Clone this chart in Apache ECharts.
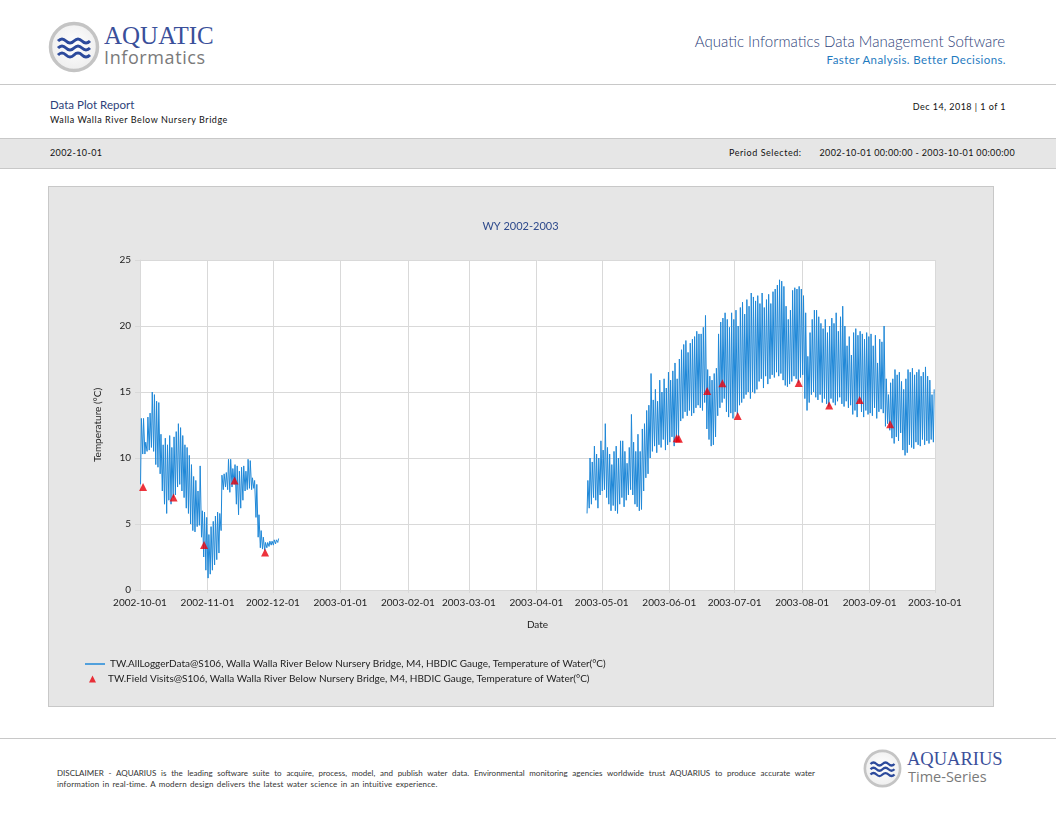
<!DOCTYPE html>
<html>
<head>
<meta charset="utf-8">
<script src="https://cdn.jsdelivr.net/npm/echarts@6/dist/echarts.min.js"></script>
<style>
  html, body { margin:0; padding:0; }
  body { width:1056px; height:816px; position:relative; background:#fff; overflow:hidden; font-family: Lato, 'Open Sans', 'Noto Sans', sans-serif; color:#222; }
  .abs { position:absolute; white-space:nowrap; }
  .hline { position:absolute; left:0; width:1056px; height:1px; background:#c8c8c8; }
  .narrow { font-family: 'Liberation Sans Narrow', Lato, sans-serif; }
</style>
</head>
<body>
<!-- header logo -->
<svg class="abs" style="left:48px;top:21px" width="52" height="52" viewBox="0 0 52 52">
  <defs>
    <radialGradient id="rg1" cx="50%" cy="45%" r="55%">
      <stop offset="0%" stop-color="#ffffff"/><stop offset="100%" stop-color="#eeeeee"/>
    </radialGradient>
  </defs>
  <circle cx="26" cy="26" r="23.5" fill="url(#rg1)" stroke="#c4c4c4" stroke-width="3.5"/>
  <path d="M10 20 q4 -4 8 0 t8 0 t8 0 t8 0" fill="none" stroke="#2c4a9c" stroke-width="3"/>
  <path d="M10 27 q4 -4 8 0 t8 0 t8 0 t8 0" fill="none" stroke="#2c4a9c" stroke-width="3"/>
  <path d="M10 34 q4 -4 8 0 t8 0 t8 0 t8 0" fill="none" stroke="#2c4a9c" stroke-width="3"/>
</svg>
<div class="abs" style="left:104px;top:23px;font-family:'Liberation Serif','DejaVu Serif',serif;font-size:25px;color:#3a4f9a;line-height:26px">AQUATIC</div>
<div class="abs" style="left:104px;top:47px;font-family:'Open Sans',sans-serif;font-size:18px;color:#7a7a7a;line-height:21px;letter-spacing:0.6px">Informatics</div>

<div class="abs" style="right:51px;top:31px;font-size:15px;color:#2e3f7a;line-height:20px;font-weight:300">Aquatic Informatics Data Management Software</div>
<div class="abs" style="right:50px;top:52px;font-size:11.5px;color:#1f7bbf;line-height:15px;letter-spacing:0.4px">Faster Analysis. Better Decisions.</div>

<div class="hline" style="top:84px"></div>

<div class="abs" style="left:50px;top:97px;font-size:11.5px;color:#2e3f7a;line-height:15px">Data Plot Report</div>
<div class="abs" style="left:50px;top:114px;font-size:9px;color:#111;line-height:12px;letter-spacing:0.55px">Walla Walla River Below Nursery Bridge</div>
<div class="abs" style="right:50px;top:101px;font-size:9px;color:#111;line-height:12px;letter-spacing:0.45px">Dec 14, 2018 | 1 of 1</div>

<div class="abs" style="left:0;top:138px;width:1056px;height:29px;background:#e6e6e6;border-top:1px solid #c8c8c8;border-bottom:1px solid #c8c8c8"></div>
<div class="abs" style="left:50px;top:147px;font-size:9px;color:#111;line-height:12px;letter-spacing:0.4px">2002-10-01</div>
<div class="abs" style="left:729px;top:147px;font-size:9px;color:#111;line-height:12px;letter-spacing:0.55px">Period Selected:</div>
<div class="abs" style="right:41px;top:147px;font-size:9px;color:#111;line-height:12px;letter-spacing:0.35px">2002-10-01 00:00:00 - 2003-10-01 00:00:00</div>

<!-- chart panel -->
<div class="abs" style="left:48px;top:186px;width:944px;height:519px;background:#e6e6e6;border:1px solid #c8c8c8"></div>
<div id="chart" class="abs" style="left:48px;top:186px;width:945px;height:520px"></div>

<div class="hline" style="top:738px"></div>

<div class="abs narrow" style="left:57px;top:768px;width:758px;font-size:8px;color:#333;line-height:11px;white-space:normal;text-align:justify;text-align-last:justify">DISCLAIMER - AQUARIUS is the leading software suite to acquire, process, model, and publish water data. Environmental monitoring agencies worldwide trust AQUARIUS to produce accurate water</div>
<div class="abs narrow" style="left:57px;top:779px;font-size:8px;color:#333;line-height:11px;letter-spacing:0.15px;word-spacing:1px">information in real-time. A modern design delivers the latest water science in an intuitive experience.</div>

<svg class="abs" style="left:863px;top:749px" width="39" height="39" viewBox="0 0 52 52">
  <circle cx="26" cy="26" r="23.5" fill="url(#rg1)" stroke="#c4c4c4" stroke-width="3.5"/>
  <path d="M10 20 q4 -4 8 0 t8 0 t8 0 t8 0" fill="none" stroke="#2c4a9c" stroke-width="3"/>
  <path d="M10 27 q4 -4 8 0 t8 0 t8 0 t8 0" fill="none" stroke="#2c4a9c" stroke-width="3"/>
  <path d="M10 34 q4 -4 8 0 t8 0 t8 0 t8 0" fill="none" stroke="#2c4a9c" stroke-width="3"/>
</svg>
<div class="abs" style="left:907px;top:750px;font-family:'Liberation Serif','DejaVu Serif',serif;font-size:18.5px;color:#3a4f9a;line-height:19px">AQUARIUS</div>
<div class="abs" style="left:908px;top:769px;font-family:'Open Sans',sans-serif;font-size:14.5px;color:#7a7a7a;line-height:16px">Time-Series</div>

<script>
// ---------- DATA ----------
const tickLabels = ['2002-10-01','2002-11-01','2002-12-01','2003-01-01','2003-02-01','2003-03-01','2003-04-01','2003-05-01','2003-06-01','2003-07-01','2003-08-01','2003-09-01','2003-10-01'];

// Logger data, autumn 2002: daily high / low (°C), one value per day starting fallStart
const fallStart = '2002-10-01';
const fallMax = [
  13.0,13.0,11.2,13.1,13.4,15.0,14.8,14.3,14.2,11.8,
  11.0,11.5,11.0,11.7,10.8,11.6,12.0,12.6,12.3,11.7,
  11.0,10.8,10.2,9.5,8.6,8.3,7.5,9.4,6.0,5.9,
  5.5,4.2,4.8,5.2,5.6,5.9,5.8,8.7,8.8,8.9,
  9.9,9.9,9.2,9.5,9.4,9.0,9.3,9.4,9.0,9.9,
  9.8,8.5,8.3,8.0,5.7,4.5,4.0,3.6,3.6,3.7,
  3.7,3.8,3.8,3.9
];
const fallMin = [
  8.0,10.3,10.3,10.5,10.6,10.8,10.5,9.5,9.3,8.8,
  7.5,6.5,5.8,6.8,6.5,7.0,7.2,7.8,8.0,7.5,
  7.0,6.2,5.8,5.0,4.5,4.4,4.8,4.9,4.0,2.5,
  1.5,0.9,1.2,1.5,1.9,2.3,2.8,4.5,7.6,7.8,
  7.6,7.4,7.8,8.0,6.5,5.7,6.2,6.8,7.5,7.6,
  7.7,7.6,7.7,5.5,4.0,3.2,3.1,3.0,3.2,3.3,
  3.4,3.4,3.5,3.6
];

// Logger data, spring/summer 2003: daily high / low (°C) starting summerStart
const summerStart = '2003-04-24';
const summerMax = [
  8.3,10.0,9.7,10.9,10.3,10.0,11.3,10.6,12.6,10.8,
  10.3,9.5,10.5,10.9,10.0,11.3,11.3,10.5,9.6,10.8,
  13.3,11.2,10.5,11.8,10.5,12.2,12.6,13.6,14.0,16.4,
  14.4,15.2,14.3,15.9,15.0,16.0,15.3,16.5,15.9,16.6,
  17.2,16.0,17.5,18.2,18.6,18.9,18.0,18.7,19.0,19.2,
  19.6,19.4,19.4,19.9,20.8,16.7,16.2,15.9,16.4,16.8,
  19.4,20.3,20.6,21.0,20.5,19.9,21.0,20.5,21.2,20.0,
  21.4,21.8,20.9,22.0,21.5,22.5,22.2,21.9,22.3,21.7,
  22.5,21.4,22.0,22.4,21.7,22.6,22.8,23.1,23.5,23.4,
  23.0,21.5,20.5,21.2,22.7,22.9,22.8,23.0,22.8,22.3,
  21.0,17.7,19.5,20.5,21.2,21.2,20.7,20.2,19.8,20.5,
  19.5,20.0,20.6,20.2,21.0,19.6,20.7,21.5,20.0,18.5,
  19.2,17.8,19.5,19.8,19.3,19.6,19.4,19.0,19.5,19.2,
  19.4,18.5,19.3,17.2,19.0,18.8,20.0,16.0,14.8,15.7,
  16.0,16.7,16.3,16.5,15.8,15.2,16.0,16.7,16.5,16.8,
  16.3,16.5,16.7,16.2,16.5,16.9,16.2,15.9,14.8,15.2
];
const summerMin = [
  5.8,6.2,6.5,7.0,6.8,6.2,7.2,7.5,7.6,7.0,
  6.5,6.0,6.4,6.0,5.8,6.5,7.0,6.3,6.8,7.2,
  7.6,7.2,6.5,6.3,6.0,6.1,7.5,8.5,8.8,10.0,
  10.5,10.9,10.4,11.0,10.8,11.4,10.6,11.0,11.2,11.6,
  10.9,11.2,11.5,12.8,13.0,13.5,13.2,13.6,13.2,13.4,
  13.8,14.0,13.8,13.6,14.2,12.2,11.4,10.9,11.0,11.6,
  13.2,13.8,14.2,14.5,13.5,13.1,13.4,13.0,13.5,13.3,
  14.0,14.2,14.5,14.8,15.0,14.5,15.0,14.9,15.2,15.8,
  16.0,15.3,16.2,15.6,16.0,16.3,16.1,16.5,16.2,16.4,
  15.9,15.5,15.4,15.6,15.8,16.2,16.0,15.7,16.1,16.3,
  14.5,13.6,14.2,14.8,15.0,14.6,14.4,14.8,14.2,14.5,
  14.1,13.9,14.5,14.2,14.0,14.3,14.6,14.1,13.9,14.3,
  13.8,14.0,13.3,13.6,13.1,14.2,13.5,13.1,13.6,13.3,
  13.4,13.2,13.8,13.0,13.5,13.7,13.4,12.4,12.6,12.1,
  11.5,11.1,11.6,11.3,11.9,10.6,10.2,10.4,11.0,10.8,
  10.7,11.2,11.0,10.9,11.4,11.0,11.3,11.1,11.4,11.2
];

// Field visits
const visitDates = ['2002-10-02','2002-10-16','2002-10-30','2002-11-13','2002-11-27','2003-06-04','2003-06-05','2003-06-18','2003-06-25','2003-07-02','2003-07-30','2003-08-13','2003-08-27','2003-09-10'];
const visitValues = [7.8,7.0,3.4,8.3,2.85,11.5,11.45,15.07,15.66,13.18,15.68,13.97,14.39,12.55];

const loggerName = 'TW.AllLoggerData@S106, Walla Walla River Below Nursery Bridge, M4, HBDIC Gauge, Temperature of Water(°C)';
const visitName = 'TW.Field Visits@S106, Walla Walla River Below Nursery Bridge, M4, HBDIC Gauge, Temperature of Water(°C)';

// ---------- BUILD ----------
const DAY = 86400000, HOUR = 3600000;
function utc(s){ const p = s.split('-').map(Number); return Date.UTC(p[0], p[1]-1, p[2]); }
function daily(start, mx, mn){
  const t0 = utc(start), out = [];
  for (let i = 0; i < mx.length; i++) {
    out.push([t0 + i*DAY + 6*HOUR, mn[i]]);
    out.push([t0 + i*DAY + 15*HOUR, mx[i]]);
  }
  return out;
}
const fallPts = daily(fallStart, fallMax, fallMin);
const loggerData = fallPts.concat([[fallPts[fallPts.length-1][0] + DAY, null]], daily(summerStart, summerMax, summerMin));
const visitData = visitDates.map((d, i) => [utc(d) + 10*HOUR, visitValues[i]]);
const tickVals = tickLabels.map(utc);
function fmtDate(v){
  const d = new Date(v);
  const p = n => (n < 10 ? '0' : '') + n;
  return d.getUTCFullYear() + '-' + p(d.getUTCMonth() + 1) + '-' + p(d.getUTCDate());
}

const chart = echarts.init(document.getElementById('chart'), null, {renderer: 'canvas'});
const FONT = 'Lato, "Open Sans", sans-serif';
chart.setOption({
  animation: false,
  textStyle: { fontFamily: FONT },
  title: { text: 'WY 2002-2003', left: 'center', top: 30,
    textStyle: { fontSize: 11, fontWeight: 'normal', color: '#2e4a8c', fontFamily: FONT } },
  grid: { left: 92, top: 74, width: 795, height: 330, show: true, backgroundColor: '#ffffff', borderWidth: 0 },
  xAxis: {
    type: 'value', min: tickVals[0], max: tickVals[tickVals.length-1],
    name: 'Date', nameLocation: 'middle', nameGap: 30,
    nameTextStyle: { fontSize: 10, color: '#222', fontFamily: FONT },
    axisLine: { show: true, lineStyle: { color: '#d9d9d9', width: 1 } },
    axisTick: { show: true, customValues: tickVals, length: 3, lineStyle: { color: '#d9d9d9' } },
    axisLabel: { customValues: tickVals, fontSize: 10, color: '#222', margin: 8, hideOverlap: false,
      showMinLabel: true, showMaxLabel: true, formatter: fmtDate },
    splitLine: { show: true, lineStyle: { color: '#d9d9d9', width: 1 } }
  },
  yAxis: {
    type: 'value', min: 0, max: 25, interval: 5,
    name: 'Temperature (°C)', nameLocation: 'middle', nameGap: 37,
    nameTextStyle: { fontSize: 10, color: '#222', fontFamily: FONT },
    axisLine: { show: true, lineStyle: { color: '#d9d9d9' } },
    axisTick: { show: true, length: 5, lineStyle: { color: '#d9d9d9' } },
    axisLabel: { fontSize: 10, color: '#222', margin: 9 },
    splitLine: { show: true, lineStyle: { color: '#d9d9d9', width: 1 } }
  },
  legend: [
    { data: [{ name: loggerName, icon: 'rect' }], left: 32, top: 468, orient: 'vertical',
      itemWidth: 20, itemHeight: 1.5, textStyle: { fontSize: 10, color: '#222', fontFamily: FONT } },
    { data: [{ name: visitName, icon: 'triangle' }], left: 36, top: 483, orient: 'vertical',
      itemWidth: 7, itemHeight: 7, textStyle: { fontSize: 10, color: '#222', fontFamily: FONT, padding: [0,0,0,7] } }
  ],
  series: [
    { name: loggerName, type: 'line', data: loggerData, showSymbol: false, symbol: 'none',
      connectNulls: false, lineStyle: { width: 1, color: '#1f88d8' }, itemStyle: { color: '#1f88d8' } },
    { name: visitName, type: 'scatter', data: visitData, symbol: 'triangle', symbolSize: 8,
      itemStyle: { color: '#e8000b' }, z: 5 }
  ]
});
</script>
</body>
</html>
